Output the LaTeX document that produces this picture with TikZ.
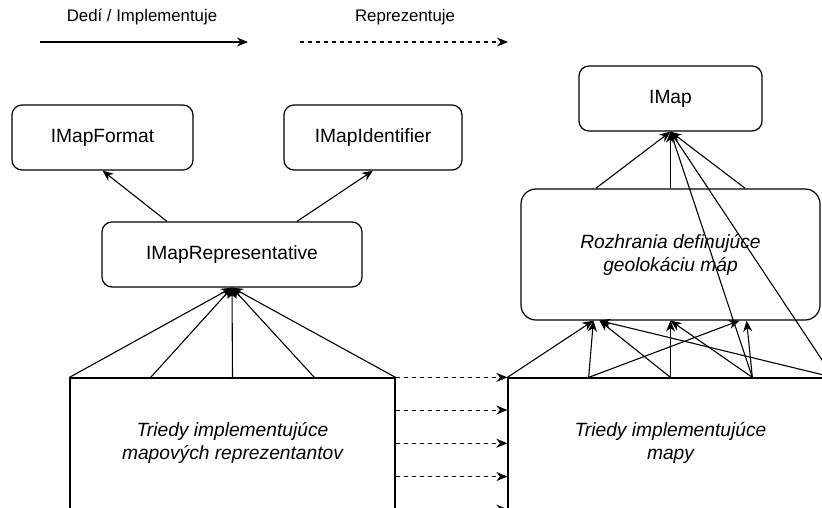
\documentclass[tikz,border=0pt]{standalone}
\usepackage{fontspec}
\setmainfont{Liberation Sans}
\usetikzlibrary{arrows.meta}
\begin{document}
\begin{tikzpicture}[x=1pt,y=-1pt,
  box/.style={draw,line width=1.2pt,rounded corners=10pt,inner sep=0pt,align=center,
    font=\fontsize{19.2}{23}\selectfont},
  bigbox/.style={box,rounded corners=15pt,font=\fontsize{19.2}{23}\selectfont\itshape},
  plainbox/.style={box,rounded corners=0pt,font=\fontsize{19.2}{23}\selectfont\itshape},
  legend/.style={inner sep=0pt,font=\fontsize{16.8}{20}\selectfont},
  impl/.style={line width=1.1pt,-{Stealth[length=11pt,width=9pt,inset=3.5pt]}},
  repr/.style={impl,dash pattern=on 4pt off 4pt}]
\useasboundingbox (0,0) rectangle (822,508);
\clip (0,0) rectangle (822,508);

% legend
\node[legend] (leg1) at (142,17) {Dedí / Implementuje};
\node[legend] (leg2) at (405,17) {Reprezentuje};
\coordinate (s1) at (40,42);
\coordinate (e1) at (248,42);
\coordinate (s2) at (300,42);
\coordinate (e2) at (508,42);
\draw[impl] (s1) -- (e1);
\draw[repr] (s2) -- (e2);

% nodes
\node[box,minimum width=181pt,minimum height=65pt] (fmt) at (102.5,137.5) {IMapFormat};
\node[box,minimum width=178pt,minimum height=65pt] (ident) at (373,137.5) {IMapIdentifier};
\node[box,minimum width=260pt,minimum height=65pt] (rep) at (232,254.5) {IMapRepresentative};
\node[box,minimum width=183pt,minimum height=65pt] (imap) at (670.5,98.5) {IMap};
\node[bigbox,minimum width=299pt,minimum height=131pt] (roz) at (670.5,254.5) {Rozhrania definujúce\\geolokáciu máp};
\node[plainbox,minimum width=325pt,minimum height=130.6pt] (lbox) at (232.5,443.3) {Triedy implementujúce\\mapových reprezentantov};
\node[plainbox,minimum width=325pt,minimum height=130.6pt] (rbox) at (670.5,443.3) {Triedy implementujúce\\mapy};

% left hierarchy
\draw[impl] ([xshift=-65pt]rep.north) -- (fmt.south);
\draw[impl] ([xshift=65pt]rep.north) -- (ident.south);
\draw[impl] (lbox.north west) -- (rep.south);
\draw[impl] ([xshift=81.25pt]lbox.north west) -- (rep.south);
\draw[impl] (lbox.north) -- (rep.south);
\draw[impl] ([xshift=-81.25pt]lbox.north east) -- (rep.south);
\draw[impl] (lbox.north east) -- (rep.south);

% representation
\draw[repr] (lbox.north east) -- (rbox.north west);
\draw[repr] ([yshift=-32.65pt]lbox.north east) -- ([yshift=-32.65pt]rbox.north west);
\draw[repr] (lbox.east) -- (rbox.west);
\draw[repr] ([yshift=32.65pt]lbox.south east) -- ([yshift=32.65pt]rbox.south west);
\draw[repr] (lbox.south east) -- (rbox.south west);

% right hierarchy
\draw[impl] ([xshift=-74.75pt]roz.north) -- (imap.south);
\draw[impl] (roz.north) -- (imap.south);
\draw[impl] ([xshift=74.75pt]roz.north) -- (imap.south);
\draw[impl] ([xshift=-81.25pt]rbox.north east) -- (imap.south);
\draw[impl] (rbox.north east) -- (imap.south);

\draw[impl] (rbox.north west) -- ([xshift=73pt]roz.south west);
\draw[impl] ([xshift=81.25pt]rbox.north west) -- ([xshift=73pt]roz.south west);
\draw[impl] ([xshift=81.25pt]rbox.north west) -- ([xshift=-81pt]roz.south east);
\draw[impl] (rbox.north) -- ([xshift=79pt]roz.south west);
\draw[impl] (rbox.north) -- (roz.south);
\draw[impl] ([xshift=-81.25pt]rbox.north east) -- (roz.south);
\draw[impl] ([xshift=-81.25pt]rbox.north east) -- ([xshift=-74pt]roz.south east);
\draw[impl] (rbox.north east) -- ([xshift=79pt]roz.south west);
\end{tikzpicture}
\end{document}
